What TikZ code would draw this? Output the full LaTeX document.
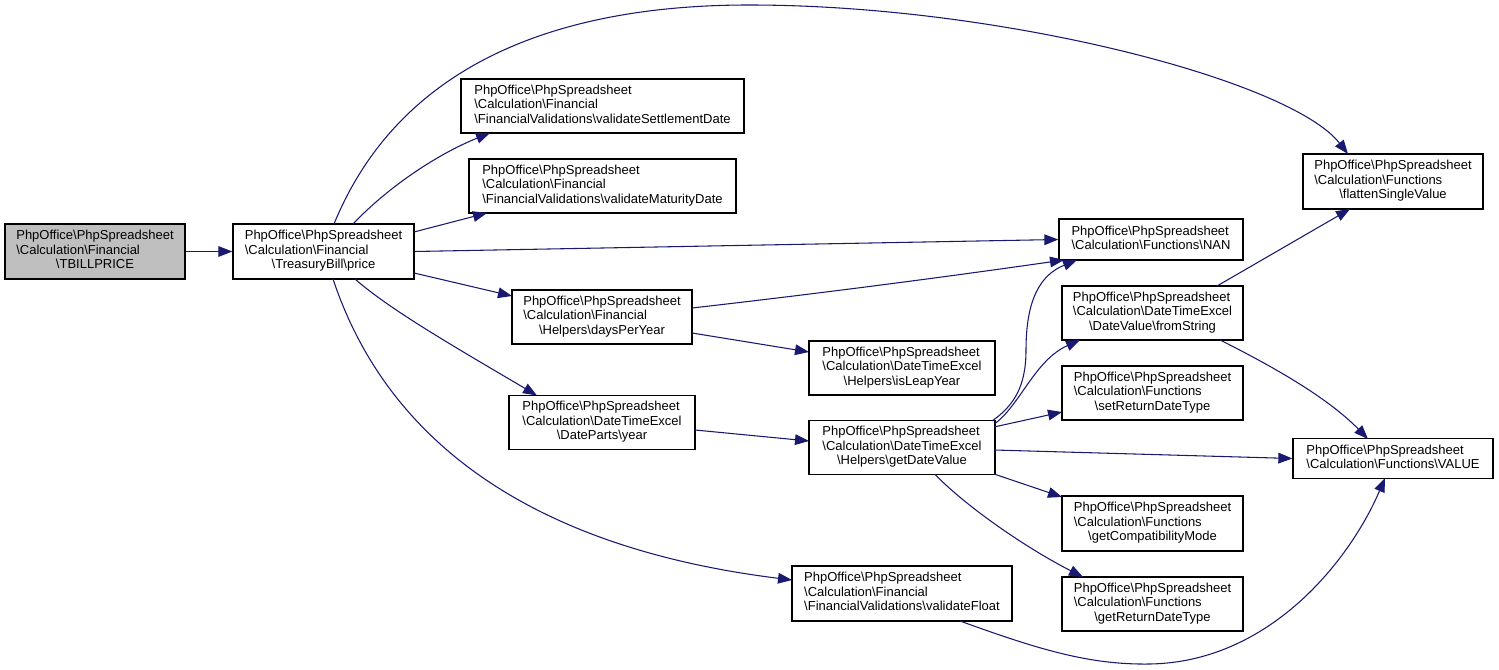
\documentclass[tikz,border=0pt]{standalone}
\usepackage{fontspec}
\setmainfont{Liberation Sans}
\usetikzlibrary{arrows.meta}
\definecolor{edgeblue}{HTML}{191970}
\definecolor{rootgray}{HTML}{BFBFBF}
\newcommand\bsl{\textbackslash}
\newcommand\glab[2]{{\fontsize{9.75}{10.9}\selectfont\begin{tabular}{@{}l@{}}#1\\\multicolumn{1}{@{}c@{}}{#2}\end{tabular}}}
\tikzset{
  box/.style={draw=black, line width=1pt, fill=white, inner sep=0pt, minimum height=40.5pt},
  rootbox/.style={box, fill=rootgray},
  edge/.style={draw=edgeblue, line width=0.8pt, -{Triangle[length=10.5pt,width=8pt]}},
}
\begin{document}
\begin{tikzpicture}[x=0.75pt,y=-0.75pt]
\useasboundingbox (0,0) rectangle (1499,670);
% nodes
\node[rootbox, minimum width=135pt, minimum height=41.25pt] (tb) at (95,251.5)
  {\glab{PhpOffice\bsl PhpSpreadsheet\\\bsl Calculation\bsl Financial}{\bsl TBILLPRICE}};
\node[box, minimum width=135.75pt, minimum height=41.25pt] (price) at (323.5,251.5)
  {\glab{PhpOffice\bsl PhpSpreadsheet\\\bsl Calculation\bsl Financial}{\bsl TreasuryBill\bsl price}};
\node[box, minimum width=212.25pt] (vsd) at (602.5,106)
  {\glab{PhpOffice\bsl PhpSpreadsheet\\\bsl Calculation\bsl Financial}{\bsl FinancialValidations\bsl validateSettlementDate}};
\node[box, minimum width=200.25pt] (vmd) at (602.5,186)
  {\glab{PhpOffice\bsl PhpSpreadsheet\\\bsl Calculation\bsl Financial}{\bsl FinancialValidations\bsl validateMaturityDate}};
\node[box, minimum width=135pt] (dpy) at (602,317)
  {\glab{PhpOffice\bsl PhpSpreadsheet\\\bsl Calculation\bsl Financial}{\bsl Helpers\bsl daysPerYear}};
\node[box, minimum width=139.5pt] (year) at (602,422.5)
  {\glab{PhpOffice\bsl PhpSpreadsheet\\\bsl Calculation\bsl DateTimeExcel}{\bsl DateParts\bsl year}};
\node[box, minimum width=139.5pt] (ily) at (902,368)
  {\glab{PhpOffice\bsl PhpSpreadsheet\\\bsl Calculation\bsl DateTimeExcel}{\bsl Helpers\bsl isLeapYear}};
\node[box, minimum width=139.5pt] (gdv) at (902,447.5)
  {\glab{PhpOffice\bsl PhpSpreadsheet\\\bsl Calculation\bsl DateTimeExcel}{\bsl Helpers\bsl getDateValue}};
\node[box, minimum width=165pt, minimum height=41.25pt] (vf) at (902,593.5)
  {\glab{PhpOffice\bsl PhpSpreadsheet\\\bsl Calculation\bsl Financial}{\bsl FinancialValidations\bsl validateFloat}};
\node[box, minimum width=138pt, minimum height=30.75pt] (nan) at (1151,239.5)
  {\glab{PhpOffice\bsl PhpSpreadsheet}{\bsl Calculation\bsl Functions\bsl NAN}};
\node[box, minimum width=135.75pt] (fs) at (1152.5,313)
  {\glab{PhpOffice\bsl PhpSpreadsheet\\\bsl Calculation\bsl DateTimeExcel}{\bsl DateValue\bsl fromString}};
\node[box, minimum width=135.75pt] (srdt) at (1152.5,393)
  {\glab{PhpOffice\bsl PhpSpreadsheet\\\bsl Calculation\bsl Functions}{\bsl setReturnDateType}};
\node[box, minimum width=135.75pt, minimum height=41.25pt] (gcm) at (1152.5,523.5)
  {\glab{PhpOffice\bsl PhpSpreadsheet\\\bsl Calculation\bsl Functions}{\bsl getCompatibilityMode}};
\node[box, minimum width=135.75pt] (grdt) at (1152.5,604)
  {\glab{PhpOffice\bsl PhpSpreadsheet\\\bsl Calculation\bsl Functions}{\bsl getReturnDateType}};
\node[box, minimum width=135pt, minimum height=41.25pt] (fsv) at (1393,181.5)
  {\glab{PhpOffice\bsl PhpSpreadsheet\\\bsl Calculation\bsl Functions}{\bsl flattenSingleValue}};
\node[box, minimum width=150pt, minimum height=30pt] (value) at (1393,458.5)
  {\glab{PhpOffice\bsl PhpSpreadsheet}{\bsl Calculation\bsl Functions\bsl VALUE}};
% edges
\draw[edge] (tb.east) -- (price.west);
\draw[edge] ([shift={(10.5,-27.5)}]price.center) .. controls (395,75) and (540,5) .. (749,5)
  .. controls (1000,5) and (1290,80) .. ([shift={(-45,-27.5)}]fsv.center);
\draw[edge] ([shift={(29.5,-27.5)}]price.center) .. controls (390,185) and (440,153) .. ([shift={(-112.5,27)}]vsd.center);
\draw[edge] ([shift={(90.5,-19.5)}]price.center) -- ([shift={(-115.5,27)}]vmd.center);
\draw[edge] (price.east) -- (nan.west);
\draw[edge] ([shift={(90.5,21.5)}]price.center) -- ([shift={(-90,-21)}]dpy.center);
\draw[edge] ([shift={(31.5,27.5)}]price.center) .. controls (390,310) and (460,350) .. ([shift={(-65,-27)}]year.center);
\draw[edge] ([shift={(9.5,27.5)}]price.center) .. controls (370,390) and (470,540) .. ([shift={(-110,-13.5)}]vf.center);
\draw[edge] ([shift={(90,-9)}]dpy.center) .. controls (850,290) and (980,272) .. ([shift={(-87,20.5)}]nan.center);
\draw[edge] ([shift={(90,16)}]dpy.center) -- ([shift={(-93,-16)}]ily.center);
\draw[edge] ([shift={(93,7.5)}]year.center) -- ([shift={(-93,-6.5)}]gdv.center);
\draw[edge] ([shift={(90,-26.5)}]gdv.center) .. controls (1015,405) and (1026,385) .. (1026,350)
  .. controls (1026,300) and (1040,275) .. ([shift={(-74,20.5)}]nan.center);
\draw[edge] ([shift={(93,-24)}]gdv.center) .. controls (1020,405) and (1035,360) .. ([shift={(-72.5,27)}]fs.center);
\draw[edge] ([shift={(92,-20.5)}]gdv.center) -- ([shift={(-90.5,19)}]srdt.center);
\draw[edge] ([shift={(92,2.5)}]gdv.center) -- (value.west);
\draw[edge] ([shift={(92,26.5)}]gdv.center) -- ([shift={(-90.5,-26.5)}]gcm.center);
\draw[edge] ([shift={(33,27)}]gdv.center) .. controls (970,510) and (1030,550) .. ([shift={(-69.5,-27)}]grdt.center);
\draw[edge] ([shift={(64.5,-27)}]fs.center) -- ([shift={(-43,27.5)}]fsv.center);
\draw[edge] ([shift={(67.5,27)}]fs.center) .. controls (1280,370) and (1330,400) .. ([shift={(-25,-19.5)}]value.center);
\draw[edge] ([shift={(58,27.5)}]vf.center) .. controls (1040,650) and (1090,665) .. (1150,664)
  .. controls (1270,662) and (1350,560) .. ([shift={(-8,19.5)}]value.center);
\end{tikzpicture}
\end{document}
